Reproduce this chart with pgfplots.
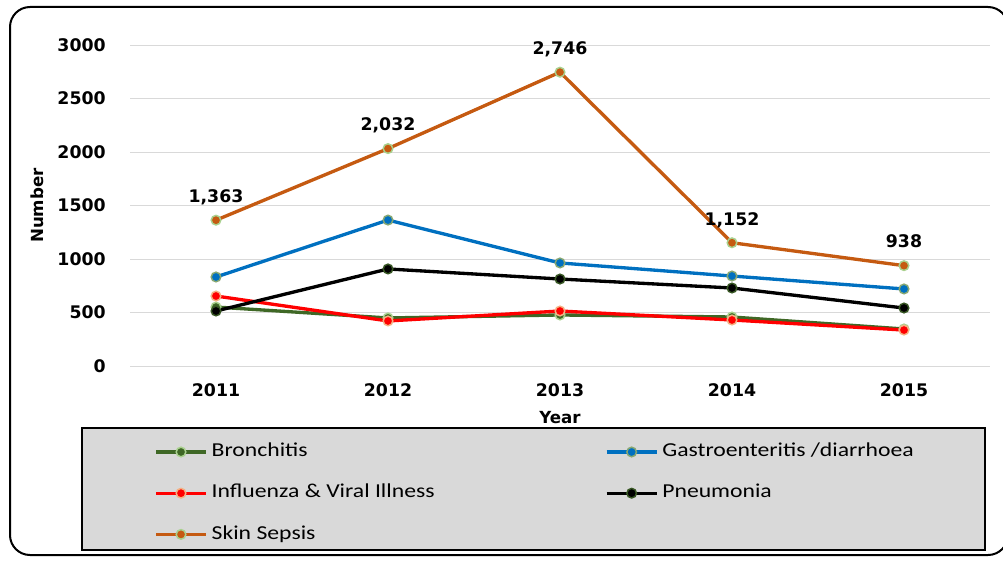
\documentclass[border=0pt]{standalone}
\usepackage{pgfplots}
\pgfplotsset{compat=1.18}
\usepackage{pgfplotstable}
\usepackage{fontspec}
\setmainfont{DejaVu Sans}
\newfontfamily\legfont[FakeStretch=1.2]{Carlito}
\definecolor{cBron}{HTML}{3F6826}
\definecolor{cGas}{HTML}{0070C0}
\definecolor{cFlu}{HTML}{FF0000}
\definecolor{cPne}{HTML}{000000}
\definecolor{cSkin}{HTML}{C55A11}
\definecolor{mkGreen}{HTML}{A9D18E}
\definecolor{mkDark}{HTML}{375623}
\definecolor{mkPink}{HTML}{F4B183}
\definecolor{gridc}{HTML}{D9D9D9}
\definecolor{legbg}{HTML}{D9D9D9}

\pgfplotstableread{
x y
0 551
1 449
2 477
3 458
4 346
}\bron
\pgfplotstableread{
x y
0 832
1 1364
2 963
3 841
4 720
}\gas
\pgfplotstableread{
x y
0 654
1 421
2 514
3 430
4 336
}\flu
\pgfplotstableread{
x y
0 514
1 907
2 813
3 729
4 542
}\pne
\pgfplotstableread{
x y lab
0 1363 {1,363}
1 2032 {2,032}
2 2746 {2,746}
3 1152 {1,152}
4 938 {938}
}\skin

\begin{document}
\begin{tikzpicture}
\useasboundingbox (0,0) rectangle (752.25pt,421.5pt);
\begin{scope}
\clip (0,0) rectangle (752.25pt,421.5pt);
\draw[line width=1.5pt, rounded corners=15pt] (7.5pt,5.25pt) rectangle (756pt,416.25pt);
\end{scope}
\draw[line width=1.6pt, fill=legbg] (61.5pt,9pt) rectangle (738.75pt,100.5pt);
\begin{axis}[
  at={(97.5pt,147pt)}, anchor=south west,
  scale only axis, width=645pt, height=240.75pt,
  xmin=-0.5, xmax=4.5, ymin=0, ymax=3000,
  xtick={0,1,2,3,4}, xticklabels={2011,2012,2013,2014,2015},
  ytick={0,500,1000,1500,2000,2500,3000},
  ymajorgrids, grid style={gridc, line width=0.75pt},
  axis line style={draw=none},
  major tick length=0pt,
  tick label style={font=\fontsize{13}{15}\selectfont\bfseries},
  /pgf/number format/assume math mode=true,
  /pgf/number format/1000 sep={},
  yticklabel style={anchor=east, inner sep=0pt, xshift=-18pt},
  xticklabel style={anchor=north, inner sep=0pt, yshift=-13pt},
  xlabel={Year}, ylabel={Number},
  label style={font=\fontsize{12.5}{15}\selectfont\bfseries},
  xlabel style={at={(axis description cs:0.5,-0.162)}, anchor=center},
  ylabel style={at={(axis description cs:-0.108,0.5)}, anchor=center},
  clip=false,
  mk/.style n args={3}{color=#1, line width=2.5pt, mark=*, mark size=3.6pt,
     mark options={draw=#2, fill=#3, line width=1.1pt}},
  legend image code/.code={\draw[mark repeat=2, mark phase=2] plot coordinates {(0pt,0pt) (18.75pt,0pt) (37.5pt,0pt)};},
  legend columns=2,
  legend style={at={(axis description cs:0.0280,-0.2400)}, anchor=north west,
     draw=none, fill=none, inner sep=0pt, row sep=17.9pt,
     nodes={font=\legfont\fontsize{14.8}{16}\selectfont, inner sep=0pt, text height=10pt, text depth=3pt, anchor=west},
     /tikz/every odd column/.append style={column sep=3pt},
     /tikz/every even column/.append style={column sep=127.75pt}},
]
\addplot[mk={cBron}{mkGreen}{cBron}] table[x=x,y=y] {\bron};
\addlegendentry{Bronchitis}
\addplot[mk={cGas}{mkGreen!80!black}{cGas}] table[x=x,y=y] {\gas};
\addlegendentry{Gastroenteritis /diarrhoea}
\addplot[mk={cFlu}{mkPink}{cFlu}] table[x=x,y=y] {\flu};
\addlegendentry{Influenza \& Viral Illness}
\addplot[mk={cPne}{mkDark}{cPne}] table[x=x,y=y] {\pne};
\addlegendentry{Pneumonia}
\addplot[mk={cSkin}{mkGreen}{cSkin}, nodes near coords, point meta=explicit symbolic,
   nodes near coords style={font=\fontsize{13}{15}\selectfont\bfseries, text=black, anchor=base, inner sep=0pt, yshift=13.25pt}]
   table[x=x,y=y,meta=lab] {\skin};
\addlegendentry{Skin Sepsis}
\end{axis}
\end{tikzpicture}
\end{document}
